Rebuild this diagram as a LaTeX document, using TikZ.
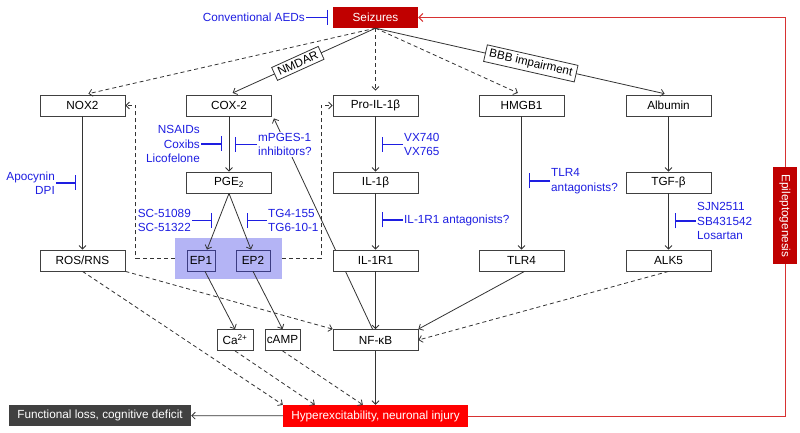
\documentclass[tikz,border=0pt]{standalone}
\usepackage{fontspec}
\setmainfont{Liberation Sans}
\usetikzlibrary{arrows.meta,calc}
\definecolor{seiz}{RGB}{192,0,0}
\definecolor{hyp}{RGB}{255,0,0}
\definecolor{func}{RGB}{64,64,64}
\definecolor{inhb}{RGB}{30,30,225}
\definecolor{hlc}{RGB}{180,180,245}
\definecolor{redline}{RGB}{215,50,50}
\definecolor{epb}{RGB}{60,60,130}
\pgfdeclarelayer{background}
\pgfsetlayers{background,main}
\begin{document}
\begin{tikzpicture}[x=1bp,y=-1bp,
  font=\fontsize{11.8}{14.5}\selectfont,
  box/.style={draw=black!75,fill=white,line width=0.8bp,minimum width=85bp,minimum height=21bp,inner sep=0pt},
  lbl/.style={draw=black!80,fill=white,line width=0.8bp,inner xsep=4bp,inner ysep=3bp},
  conn/.style={draw=black!80,line width=0.8bp,-{Straight Barb[length=3.5bp,width=7bp]}},
  dsh/.style={conn,dash pattern=on 4bp off 3bp},
  inh/.style={draw=inhb,line width=1.3bp,-{Bar[width=15bp]}},
  itxt/.style={text=inhb,inner sep=1bp},
  solidbox/.style={text=white,inner sep=0pt}
]
\useasboundingbox (0,0) rectangle (800,433);

% main nodes
\node[solidbox,fill=seiz,minimum width=85bp,minimum height=21bp] (seiz) at (375.5,17.5) {Seizures};
\node[box] (nox) at (82.5,105.5) {NOX2};
\node[box] (cox) at (229,105.5) {COX-2};
\node[box] (pro) at (375.5,105.5) {Pro-IL-1β};
\node[box] (hmgb) at (521.5,105.5) {HMGB1};
\node[box] (alb) at (668.5,105.5) {Albumin};
\node[box] (pge) at (229,182.5) {PGE\textsubscript{2}};
\node[box] (il1b) at (375.5,182.5) {IL-1β};
\node[box] (tgf) at (668.5,182.5) {TGF-β};
\node[fill=hlc,minimum width=107bp,minimum height=41bp,inner sep=0pt] (epbg) at (228.5,258.5) {};
\node[box,fill=hlc,draw=epb,minimum width=28bp] (ep1) at (201,260.5) {EP1};
\node[box,fill=hlc,draw=epb,minimum width=34bp] (ep2) at (253,260.5) {EP2};
\node[box] (ros) at (82.5,260.5) {ROS/RNS};
\node[box] (il1r) at (375.5,260.5) {IL-1R1};
\node[box] (tlr) at (521.5,260.5) {TLR4};
\node[box] (alk) at (668.5,260.5) {ALK5};
\node[box] (nfkb) at (375.5,340) {NF-κB};
\node[box,minimum width=36bp] (ca) at (235,340) {Ca\textsuperscript{2+}};
\node[box,minimum width=35bp] (camp) at (282.5,340) {cAMP};
\node[solidbox,fill=hyp,minimum width=185bp,minimum height=22bp] (hyp) at (375.5,416) {Hyperexcitability, neuronal injury};
\node[solidbox,fill=func,minimum width=182bp,minimum height=21bp] (func) at (100,415.5) {Functional loss, cognitive deficit};
\node[solidbox,fill=seiz,rotate=-90,minimum width=97bp,minimum height=24bp] (epi) at (785,216) {Epileptogenesis};

% background lines
\begin{pgfonlayer}{background}
\draw[conn] ([xshift=-3bp]nfkb.north) -- ([xshift=2bp,yshift=-2bp]cox.south east);
\coordinate (rl1) at (785,416);
\coordinate (rl2) at (785,17.5);
\draw[draw=redline,line width=1bp,-{Straight Barb[length=4bp,width=8bp]}] (hyp.east) -- (rl1) -- (rl2) -- (seiz.east);
\end{pgfonlayer}

% seizure connectors
\draw[dsh,shorten >=4bp] (seiz.south) -- ([xshift=2bp]nox.north);
\draw[conn,shorten >=4bp] (seiz.south) -- node[lbl,sloped,pos=0.53]{NMDAR} (cox.north);
\draw[dsh,shorten >=4bp] (seiz.south) -- (pro.north);
\draw[dsh,shorten >=4bp] (seiz.south) -- (hmgb.north);
\draw[conn,shorten >=4bp] (seiz.south) -- node[lbl,sloped,pos=0.53]{BBB impairment} (alb.north);

% columns
\draw[conn] (nox) -- (ros);
\draw[conn] (cox) -- (pge);
\draw[conn] (pro) -- (il1b);
\draw[conn] (il1b) -- (il1r);
\draw[conn] (hmgb) -- (tlr);
\draw[conn] (alb) -- (tgf);
\draw[conn] (tgf) -- (alk);
\draw[conn] (pge.south) -- ([xshift=6bp]ep1.north);
\draw[conn] (pge.south) -- ([xshift=-2bp]ep2.north);
\draw[conn] ([xshift=4bp]ep1.south) -- (ca.north);
\draw[conn] (ep2.south) -- (camp.north);
\draw[conn] (il1r) -- (nfkb);
\draw[conn] ([xshift=3bp]tlr.south) -- (nfkb.north east);
\draw[dsh] (alk.south) -- (nfkb.east);
\draw[dsh] (ros.south east) -- (nfkb.north west);
\draw[dsh] (ros.south) -- (hyp.north west);
\draw[dsh] (ca.south) -- ([xshift=32bp]hyp.north west);
\draw[dsh] (camp.south) -- ([xshift=80bp]hyp.north west);
\draw[conn] (nfkb) -- (hyp);
\draw[conn] (hyp) -- (func);
\draw[dsh] (epbg.west) -- ++(-39,0) |- (nox.east);
\draw[dsh] (epbg.east) -- ++(39,0) |- (pro.west);

% inhibitors
\node[itxt,anchor=east] (aed) at (306,17.5) {Conventional AEDs};
\coordinate (aedb) at (328,17.5);
\draw[inh] (aed.east) -- (aedb);

\node[itxt,anchor=east,align=right] (apo) at (56,183) {Apocynin\\DPI};
\coordinate (apob) at (76,183);
\draw[inh] (apo.east) -- (apob);

\node[itxt,anchor=east,align=right] (nsaid) at (201,144) {NSAIDs\\Coxibs\\Licofelone};
\coordinate (nsaidb) at (222,144);
\draw[inh] (nsaid.east) -- (nsaidb);

\node[itxt,anchor=west,align=left,fill=white] (mpg) at (257,144.5) {mPGES-1\\inhibitors?};
\coordinate (mpgb) at (235,144.5);
\draw[inh] (mpg.west) -- (mpgb);

\node[itxt,anchor=east,align=right] (sc) at (192,220.5) {SC-51089\\SC-51322};
\coordinate (scb) at (212,220.5);
\draw[inh] (sc.east) -- (scb);

\node[itxt,anchor=west,align=left] (tg) at (267,220.5) {TG4-155\\TG6-10-1};
\coordinate (tgb) at (247,220.5);
\draw[inh] (tg.west) -- (tgb);

\node[itxt,anchor=west,align=left] (vx) at (403,144.5) {VX740\\VX765};
\coordinate (vxb) at (382,144.5);
\draw[inh] (vx.west) -- (vxb);

\node[itxt,anchor=west] (ilant) at (403,220) {IL-1R1 antagonists?};
\coordinate (ilantb) at (382,220);
\draw[inh] (ilant.west) -- (ilantb);

\node[itxt,anchor=west,align=left] (tlrant) at (550,181) {TLR4\\antagonists?};
\coordinate (tlrantb) at (529,181);
\draw[inh] (tlrant.west) -- (tlrantb);

\node[itxt,anchor=west,align=left] (sjn) at (696,221) {SJN2511\\SB431542\\Losartan};
\coordinate (sjnb) at (675,221);
\draw[inh] (sjn.west) -- (sjnb);
\end{tikzpicture}
\end{document}
